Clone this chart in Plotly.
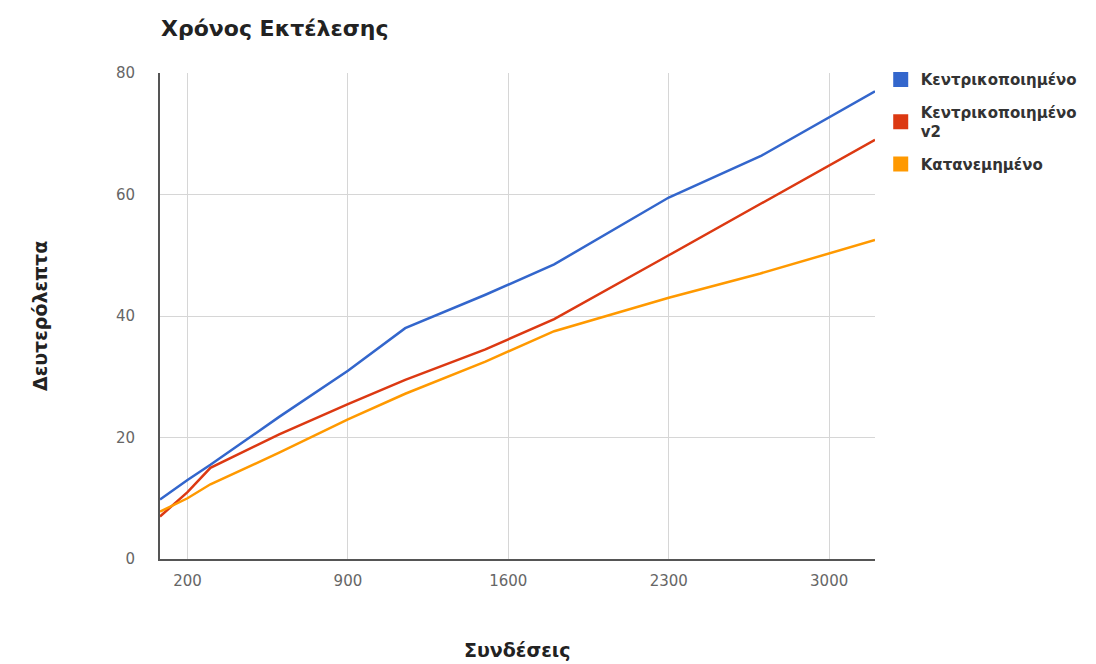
import plotly.graph_objects as go

connections = [80, 200, 300, 600, 900, 1150, 1500, 1800, 2300, 2700, 3200]
central = [9.8, 13.0, 15.5, 23.4, 31.0, 38.0, 43.5, 48.5, 59.5, 66.3, 77.0]
central_v2 = [7.0, 11.0, 15.0, 20.5, 25.5, 29.5, 34.5, 39.5, 50.0, 58.4, 69.0]
distributed = [7.8, 10.0, 12.3, 17.5, 23.0, 27.2, 32.5, 37.5, 43.0, 47.0, 52.5]

series_names = ["Κεντρικοποιημένο", "Κεντρικοποιημένο<br>v2", "Κατανεμημένο"]
series_values = [central, central_v2, distributed]
colors = ["#3366cc", "#dc3912", "#ff9900"]

x_ticks = [200, 900, 1600, 2300, 3000]
y_ticks = [0, 20, 40, 60, 80]

fig = go.Figure()
for name, vals, c in zip(series_names, series_values, colors):
    fig.add_trace(go.Scatter(x=connections, y=vals, mode="lines",
                             line=dict(color=c, width=2.5), showlegend=False,
                             name=name))
for i, (name, c) in enumerate(zip(series_names, colors)):
    fig.add_trace(go.Scatter(x=[None], y=[None], mode="markers",
                             name="<b>" + name + "</b>", legendgroup="g%d" % i,
                             marker=dict(symbol="square", size=15, color=c)))

bold_font = "DejaVu Sans"
fig.update_layout(
    width=1096, height=664,
    margin=dict(l=152, r=229, t=65, b=113),
    paper_bgcolor="white", plot_bgcolor="white",
    font=dict(family=bold_font, color="#444", size=12),
    title=dict(text="<b>Χρόνος Εκτέλεσης</b>", x=153/1096, xanchor="left",
               y=1 - 20/664, yanchor="middle",
               font=dict(size=22, color="#222", family=bold_font)),
    legend=dict(x=1.008, y=1.02, xanchor="left", yanchor="top",
                font=dict(size=15, color="#333", family=bold_font),
                itemwidth=30, tracegroupgap=10, bgcolor="rgba(0,0,0,0)"),
    showlegend=True,
)
fig.update_xaxes(range=[80, 3200], tickvals=x_ticks, ticktext=[str(v) for v in x_ticks],
                 showgrid=True, gridcolor="#d6d6d6", gridwidth=1,
                 showline=True, linecolor="#555", linewidth=2,
                 zeroline=False, ticks="", tickfont=dict(size=15, color="#666", family=bold_font),
                 ticklabelstandoff=7)
fig.update_yaxes(range=[0, 80], tickvals=y_ticks,
                 showgrid=True, gridcolor="#d6d6d6", gridwidth=1,
                 showline=True, linecolor="#555", linewidth=2,
                 zeroline=False, ticks="", tickfont=dict(size=15, color="#666", family=bold_font),
                 ticklabelstandoff=20)
fig.add_annotation(text="<b>Δευτερόλεπτα</b>", xref="paper", yref="paper",
                   x=-(160 - 40) / 715, y=0.5, xanchor="center", yanchor="middle",
                   textangle=-90, showarrow=False,
                   font=dict(size=19, color="#222", family=bold_font))
fig.add_annotation(text="<b>Συνδέσεις</b>", xref="paper", yref="paper",
                   x=(517 - 160) / 715, y=-(650 - 559) / 486, xanchor="center",
                   yanchor="middle", showarrow=False,
                   font=dict(size=19, color="#222", family=bold_font))
fig.write_html("out.html")
